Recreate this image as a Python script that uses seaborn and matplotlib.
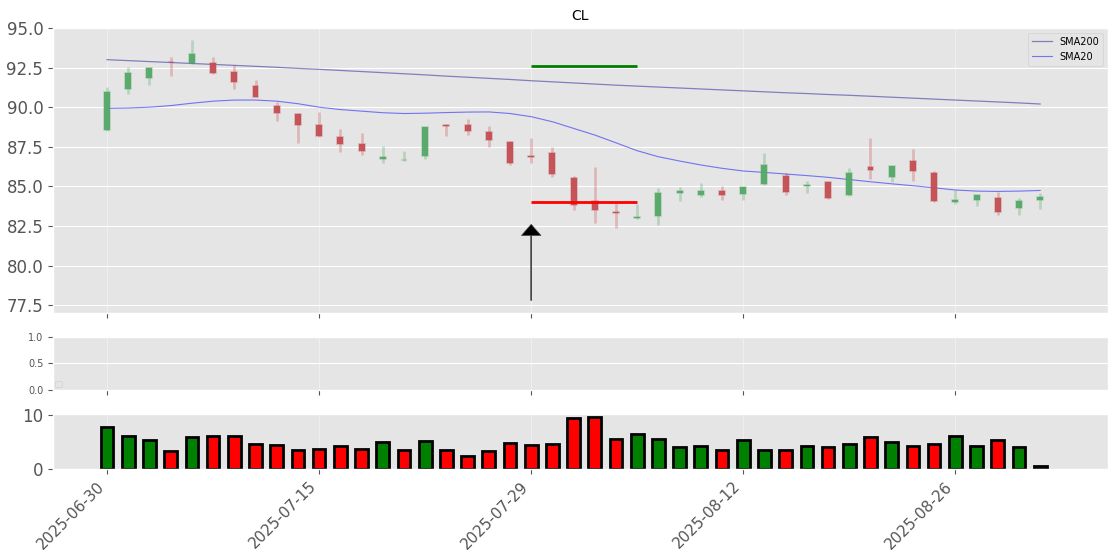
import numpy as np
import pandas as pd
import seaborn as sns
import matplotlib
matplotlib.use("Agg")
import matplotlib.pyplot as plt

# trading days shown
dates = pd.bdate_range("2025-06-30", "2025-09-02").drop(pd.to_datetime(["2025-07-04", "2025-09-01"]))

opens  = [88.56, 91.13, 91.82, 92.88, 92.77, 92.77, 92.24, 91.36, 90.07, 89.57,
          88.87, 88.13, 87.69, 86.72, 86.68, 86.91, 88.87, 88.87, 88.45, 87.82,
          86.92, 87.12, 85.54, 84.07, 83.40, 83.02, 83.12, 84.58, 84.45, 84.72,
          84.51, 85.15, 85.67, 85.04, 85.29, 84.45, 86.24, 85.57, 86.62, 85.86,
          84.02, 84.13, 84.28, 83.63, 84.13]
highs  = [91.29, 92.52, 92.52, 93.19, 94.24, 93.19, 92.66, 91.72, 90.34, 89.62,
          89.71, 88.60, 88.39, 87.57, 87.25, 88.77, 88.92, 89.23, 88.81, 87.85,
          88.07, 87.50, 85.65, 86.24, 83.96, 83.88, 84.87, 84.94, 85.19, 85.04,
          84.98, 87.08, 85.82, 85.33, 85.35, 86.14, 88.03, 86.30, 87.38, 85.99,
          84.77, 84.47, 84.66, 84.26, 84.60]
lows   = [88.50, 90.83, 91.40, 91.97, 92.70, 92.10, 91.15, 90.62, 89.14, 87.76,
          88.10, 87.17, 86.98, 86.49, 86.62, 86.74, 88.18, 88.22, 87.50, 86.38,
          86.49, 85.61, 83.50, 82.70, 82.38, 82.92, 82.56, 84.07, 84.34, 84.13,
          84.13, 85.10, 84.45, 84.60, 84.20, 84.40, 85.44, 85.27, 85.33, 84.00,
          83.86, 83.76, 83.19, 83.19, 83.55]
closes = [90.98, 92.14, 92.49, 92.84, 93.36, 92.18, 91.59, 90.66, 89.65, 88.87,
          88.18, 87.67, 87.25, 86.87, 86.68, 88.77, 88.82, 88.51, 87.93, 86.45,
          86.87, 85.78, 83.82, 83.50, 83.34, 83.07, 84.60, 84.72, 84.72, 84.45,
          84.98, 86.35, 84.64, 85.08, 84.26, 85.86, 86.03, 86.30, 85.97, 84.07,
          84.11, 84.47, 83.38, 84.09, 84.34]
volume = [7.8, 6.1, 5.3, 3.3, 5.9, 6.1, 6.1, 4.6, 4.4, 3.6,
          3.8, 4.2, 3.8, 5.0, 3.6, 5.2, 3.6, 2.5, 3.3, 4.8,
          4.4, 4.6, 9.5, 9.7, 5.5, 6.5, 5.5, 4.0, 4.2, 3.5,
          5.3, 3.6, 3.5, 4.2, 4.0, 4.6, 5.9, 5.0, 4.2, 4.6,
          6.1, 4.2, 5.3, 4.0, 0.6]
sma200 = [93.00, 92.94, 92.88, 92.82, 92.76, 92.70, 92.64, 92.58, 92.52, 92.45,
          92.39, 92.32, 92.25, 92.18, 92.11, 92.04, 91.96, 91.89, 91.82, 91.75,
          91.67, 91.60, 91.53, 91.46, 91.39, 91.33, 91.27, 91.21, 91.15, 91.09,
          91.03, 90.97, 90.91, 90.86, 90.80, 90.75, 90.69, 90.63, 90.57, 90.51,
          90.45, 90.39, 90.33, 90.27, 90.20]
sma20  = [89.93, 89.95, 90.00, 90.10, 90.25, 90.38, 90.45, 90.45, 90.38, 90.22,
          90.00, 89.85, 89.75, 89.65, 89.60, 89.62, 89.66, 89.69, 89.70, 89.60,
          89.40, 89.08, 88.66, 88.24, 87.75, 87.25, 86.87, 86.60, 86.35, 86.14,
          85.97, 85.88, 85.78, 85.68, 85.57, 85.43, 85.29, 85.16, 85.04, 84.91,
          84.77, 84.70, 84.68, 84.70, 84.74]

# levels and signal
signal_idx = 20
level_end = 25
level_high = 92.6
level_low = 84.0
arrow_from = 77.8
arrow_to = 82.6

df = pd.DataFrame({"Open": opens, "High": highs, "Low": lows, "Close": closes,
                   "Volume": volume, "SMA200": sma200, "SMA20": sma20})
df["idx"] = np.arange(len(df))
df["vdir"] = np.where(df.Close > df.Open, "up", "down")

plt.style.use("ggplot")
fig = plt.figure(figsize=(11.2, 5.6), dpi=100)
ax1 = fig.add_axes([0.0473, 0.441, 0.942, 0.509])
ax2 = fig.add_axes([0.0473, 0.3036, 0.942, 0.0946], sharex=ax1)
ax3 = fig.add_axes([0.0473, 0.1625, 0.942, 0.098], sharex=ax1)

# candles
up = df.Close >= df.Open
green = "#55A868"
red = "#C44E52"
ccol = np.where(up, green, red)
ax1.vlines(df.idx, df.Low, df.High, colors=ccol, alpha=0.3, lw=2, zorder=2)
for i, r in df.iterrows():
    c = matplotlib.colors.to_rgba(ccol[i])
    ax1.bar(r.idx, r.Close - r.Open, bottom=r.Open, width=0.28,
            facecolor=c[:3] + (0.95,), edgecolor=c[:3] + (0.35,), lw=1.2, zorder=3)

sns.lineplot(x=df.idx, y=df.SMA200, ax=ax1, color="#2b2b9c", lw=0.9, alpha=0.55, label="SMA200")
sns.lineplot(x=df.idx, y=df.SMA20, ax=ax1, color="blue", lw=0.8, alpha=0.5, label="SMA20")

ax1.hlines(level_high, signal_idx, level_end, color="green", lw=2, zorder=4)
ax1.hlines(level_low, signal_idx, level_end, color="red", lw=2, zorder=4)
ax1.annotate("", xy=(signal_idx, arrow_to), xytext=(signal_idx, arrow_from),
             arrowprops=dict(facecolor="black", edgecolor="#444444", width=0.6,
                             headwidth=14, headlength=8, shrink=0))

ax1.set_title("CL", fontsize=10, color="black")
ax1.set_ylim(77.0, 95.0)
ax1.set_xlim(-2.55, 47.2)
ax1.set_xlabel("")
ax1.set_ylabel("")
ax1.grid(axis="x", alpha=0.4)
ax1.tick_params(labelsize=12, labelbottom=False)
leg = ax1.legend(loc="upper right", fontsize=7)

# empty indicator panel
ax2.set_ylim(0, 1)
ax2.grid(axis="x", alpha=0.4)
ax2.tick_params(labelsize=7, labelbottom=False)
ax2.legend(handles=[], loc="lower left", fontsize=6, borderaxespad=0.3)

# volume
sns.barplot(data=df, x="idx", y="Volume", hue="vdir", palette={"up": "green", "down": "red"},
            native_scale=True, dodge=False, width=0.6, edgecolor="black", linewidth=2,
            saturation=1, legend=False, ax=ax3)
ax3.set_xlim(-2.55, 47.2)
ax3.set_xlabel("")
ax3.set_ylabel("")
ax3.set_yticks([0, 10])
ax3.grid(axis="y", visible=False)
ax3.grid(axis="x", alpha=0.4)
ticks = list(range(0, len(df), 10))
ax3.set_xticks(ticks)
ax3.set_xticklabels([dates[t].strftime("%Y-%m-%d") for t in ticks], rotation=45, ha="right")
ax3.tick_params(axis="y", labelsize=12)
ax3.tick_params(axis="x", labelsize=11)

fig.savefig("out.png", dpi=100)
